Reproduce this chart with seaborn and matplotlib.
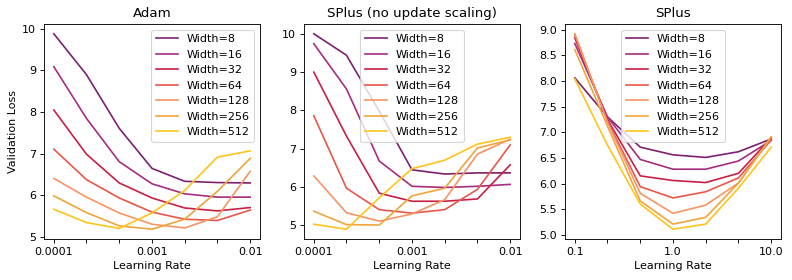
import numpy as np
import pandas as pd
import seaborn as sns
import matplotlib
matplotlib.use('Agg')
import matplotlib.pyplot as plt

# Datos
widths = [8, 16, 32, 64, 128, 256, 512]
colores = ['#7b2170', '#a52c7f', '#c81f45', '#e8564a', '#f79463', '#efa43c', '#fdc41c']

lr_adam = [0.0001, 0.000215, 0.000464, 0.001, 0.00215, 0.00464, 0.01]
lr_splus = [0.1, 0.215, 0.464, 1.0, 2.15, 4.64, 10.0]

loss_adam = [
    [9.88, 8.90, 7.61, 6.65, 6.34, 6.31, 6.30],
    [9.09, 7.85, 6.81, 6.28, 6.04, 5.96, 5.96],
    [8.05, 6.99, 6.30, 5.94, 5.70, 5.63, 5.71],
    [7.11, 6.38, 5.94, 5.60, 5.43, 5.40, 5.65],
    [6.41, 5.96, 5.58, 5.31, 5.22, 5.49, 6.58],
    [5.99, 5.59, 5.27, 5.19, 5.43, 6.10, 6.89],
    [5.67, 5.35, 5.21, 5.58, 6.12, 6.92, 7.07],
]

loss_splus_noscale = [
    [10.00, 9.44, 7.98, 6.45, 6.34, 6.37, 6.37],
    [9.74, 8.56, 6.68, 6.02, 5.99, 6.02, 6.07],
    [9.00, 7.33, 5.84, 5.63, 5.63, 5.69, 6.58],
    [7.86, 5.97, 5.41, 5.32, 5.41, 5.94, 7.10],
    [6.29, 5.33, 5.11, 5.30, 5.67, 6.86, 7.25],
    [5.37, 5.02, 5.01, 5.77, 5.97, 7.02, 7.23],
    [5.03, 4.90, 5.72, 6.48, 6.70, 7.12, 7.30],
]

loss_splus = [
    [8.06, 7.30, 6.71, 6.56, 6.51, 6.62, 6.87],
    [8.73, 7.30, 6.47, 6.28, 6.28, 6.44, 6.84],
    [8.84, 7.25, 6.15, 6.06, 6.02, 6.20, 6.89],
    [8.89, 7.22, 5.94, 5.72, 5.84, 6.11, 6.85],
    [8.92, 7.20, 5.81, 5.42, 5.58, 6.01, 6.91],
    [8.61, 7.12, 5.66, 5.21, 5.34, 6.01, 6.91],
    [8.04, 6.75, 5.60, 5.11, 5.21, 5.91, 6.71],
]

paneles = [
    ('Adam', lr_adam, loss_adam, ['0.0001', '0.001', '0.01'], 'upper right'),
    ('SPlus (no update scaling)', lr_adam, loss_splus_noscale, ['0.0001', '0.001', '0.01'], 'upper center'),
    ('SPlus', lr_splus, loss_splus, ['0.1', '1.0', '10.0'], 'upper center'),
]


def a_tabla(lrs, losses):
    '''Pasa las listas a un DataFrame largo para seaborn.'''
    filas = []
    for w, serie in zip(widths, losses):
        for lr, v in zip(lrs, serie):
            filas.append({'lr': lr, 'loss': v, 'width': f'Width={w}'})
    return pd.DataFrame(filas)


DPI = 80
fig = plt.figure(figsize=(792 / DPI, 280 / DPI), dpi=DPI)
lefts = [44 / 792, 304 / 792, 565 / 792]
for i, (titulo, lrs, losses, etiquetas, loc) in enumerate(paneles):
    ax = fig.add_axes([lefts[i], 41 / 280, 216 / 792, 215 / 280])
    df = a_tabla(lrs, losses)
    ax.set_xscale('log')
    sns.lineplot(data=df, x='lr', y='loss', hue='width', palette=colores, ax=ax)
    ax.minorticks_off()
    ax.set_xticks(lrs)
    ax.set_xticklabels([etiquetas[0], '', '', etiquetas[1], '', '', etiquetas[2]])
    ax.set_title(titulo)
    ax.set_xlabel('Learning Rate')
    ax.set_ylabel('Validation Loss' if i == 0 else '')
    if i == 2:
        ax.set_yticks(np.arange(5.0, 9.01, 0.5))
    # leyenda sin titulo
    leg = ax.get_legend()
    handles = leg.legend_handles
    labels = [t.get_text() for t in leg.get_texts()]
    ax.legend(handles, labels, loc=loc)

fig.savefig('out.png', dpi=DPI)
